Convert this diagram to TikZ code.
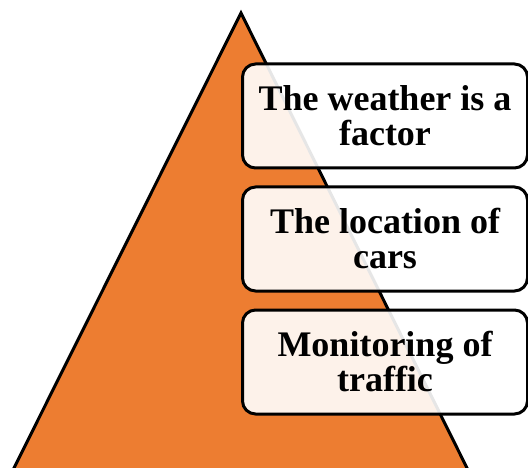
\documentclass[tikz,border=0pt]{standalone}
\usepackage{fontspec}
\setmainfont{Liberation Serif}
\usepackage{tikz}
\usetikzlibrary{positioning}
\definecolor{pyrorange}{HTML}{ED7D31}
\tikzset{
  level/.style={draw=black, line width=3pt, rounded corners=13pt, fill=white, fill opacity=0.9, text opacity=1,
    minimum width=285pt, minimum height=104pt, align=center,
    font=\fontsize{36}{35}\selectfont\bfseries, inner sep=0pt}
}

\begin{document}
\begin{tikzpicture}[x=1pt,y=-1pt,line cap=round,line join=round]
\useasboundingbox (0,0) rectangle (528,468);
\draw[fill=pyrorange, line width=3pt, line join=miter] (241,13) -- (468,470) -- (13,470) -- cycle;
\node[level] (weather) at (385,116) {The weather is a\\factor};
\node[level, below=16pt of weather] (location) {The location of\\cars};
\node[level, below=16pt of location] (traffic) {Monitoring of\\traffic};
\end{tikzpicture}
\end{document}
